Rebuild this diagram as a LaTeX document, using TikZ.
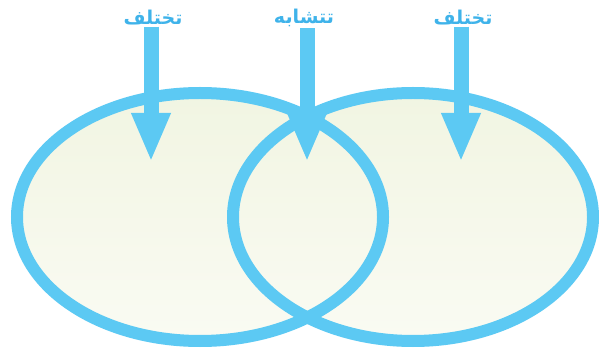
\documentclass[tikz,border=0pt]{standalone}
\usepackage{fontspec}
\usetikzlibrary{arrows.meta}
\TeXXeTstate=1
\newfontfamily\arabicfont[Script=Arabic]{DejaVu Sans Bold}
\definecolor{ringblue}{HTML}{5CC9F3}
\definecolor{txtblue}{HTML}{3FB3EA}
\definecolor{filltop}{HTML}{F1F5E2}
\definecolor{fillbot}{HTML}{FAFBF3}
\tikzset{
  setfill/.style={top color=filltop, bottom color=fillbot, draw=none},
  setring/.style={draw=ringblue, line width=12pt},
  lbl/.style={font=\arabicfont\fontsize{19}{22}\selectfont, text=txtblue, inner sep=0pt},
  bigarrow/.style={draw=ringblue, line width=15pt, -{Triangle[width=36pt,length=49pt]}},
}
\begin{document}
\begin{tikzpicture}[x=1pt,y=1pt]
\useasboundingbox (0,0) rectangle (599,356);
\fill[white] (0,0) rectangle (599,356);
% fills
\shade[setfill] (200,139) ellipse [x radius=183, y radius=124];
\shade[setfill] (413,139) ellipse [x radius=180, y radius=124];
% rings
\draw[setring] (200,139) ellipse [x radius=183, y radius=124];
\draw[setring] (413,139) ellipse [x radius=180, y radius=124];
% labels
\node[lbl] (l1) at (153,338) {\beginR تختلف\endR};
\node[lbl] (l2) at (304,338) {\beginR تتشابه\endR};
\node[lbl] (l3) at (463,338) {\beginR تختلف\endR};
\coordinate (t1) at (151,194);
\coordinate (t2) at (307,194);
\coordinate (t3) at (461,194);
\draw[bigarrow] ([yshift=-1pt]l1.south -| t1) -- (t1);
\draw[bigarrow] ([yshift=-1pt]l2.south -| t2) -- (t2);
\draw[bigarrow] ([yshift=-1pt]l3.south -| t3) -- (t3);
\end{tikzpicture}
\end{document}
